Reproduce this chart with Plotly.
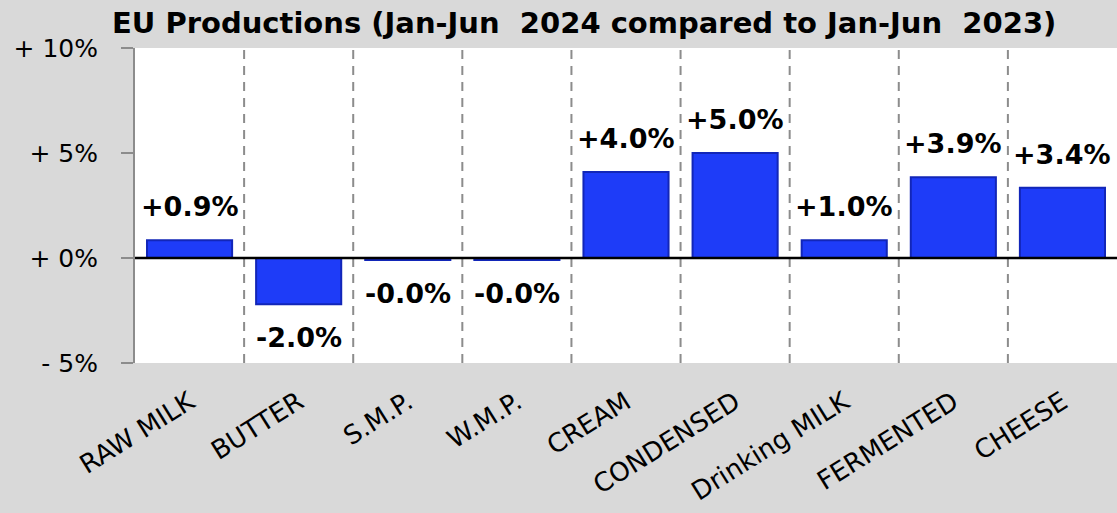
import plotly.graph_objects as go

categories = ["RAW MILK", "BUTTER", "S.M.P.", "W.M.P.", "CREAM", "CONDENSED",
              "Drinking MILK", "FERMENTED", "CHEESE"]
values = [0.85, -2.2, -0.1, -0.1, 4.1, 5.0, 0.85, 3.85, 3.35]
labels = ["+0.9%", "-2.0%", "-0.0%", "-0.0%", "+4.0%", "+5.0%", "+1.0%", "+3.9%", "+3.4%"]
tick_vals = [-5, 0, 5, 10]
tick_text = ["- 5%", "+ 0%", "+ 5%", "+ 10%"]

font_family = "DejaVu Sans, Verdana, sans-serif"

fig = go.Figure()
fig.add_trace(go.Bar(
    x=categories, y=values,
    marker=dict(color="#1e3cf8", line=dict(color="#1226b8", width=2)),
    width=0.78,
    hoverinfo="skip",
))

annotations = []
for c, v, t in zip(categories, values, labels):
    annotations.append(dict(
        x=c, y=v, text="<b>%s</b>" % t, showarrow=False,
        xref="x", yref="y",
        yanchor="bottom" if v >= 0 else "top",
        yshift=16 if v >= 0 else -16,
        font=dict(size=27, color="#000000", family=font_family),
    ))

shapes = []
for i in range(len(categories) - 1):
    shapes.append(dict(type="line", xref="x", yref="paper",
                       x0=i + 0.5, x1=i + 0.5, y0=0, y1=1,
                       line=dict(color="#8c8c8c", width=2, dash="9px,7px"),
                       layer="below"))
shapes.append(dict(type="line", xref="paper", yref="y", x0=0, x1=1, y0=0, y1=0,
                   line=dict(color="#000000", width=2.5)))

fig.update_layout(
    width=1117, height=513,
    margin=dict(l=135, r=0, t=48, b=150),
    paper_bgcolor="#d9d9d9",
    plot_bgcolor="#ffffff",
    showlegend=False,
    title=dict(text="<b>EU Productions (Jan-Jun  2024 compared to Jan-Jun  2023)</b>",
               x=0.523, xanchor="center", y=0.955, yanchor="middle",
               font=dict(size=29, color="#000000", family=font_family)),
    annotations=annotations,
    shapes=shapes,
    bargap=0.22,
)
fig.update_xaxes(
    tickangle=-32, tickfont=dict(size=26, color="#000000", family=font_family),
    showgrid=False, showline=False, ticks="",
    range=[-0.5, len(categories) - 0.5],
    ticklabelstandoff=18,
)
fig.update_yaxes(
    range=[-5, 10], tickvals=tick_vals, ticktext=tick_text,
    tickfont=dict(size=25, color="#000000", family=font_family),
    showgrid=False, zeroline=False,
    showline=True, linecolor="#8c8c8c", linewidth=2,
    ticks="outside", ticklen=12, tickcolor="#8c8c8c", tickwidth=2,
    ticklabelstandoff=18,
)

fig.write_html("out.html", config={"displayModeBar": False},
               post_script="document.body.style.margin='0';")
